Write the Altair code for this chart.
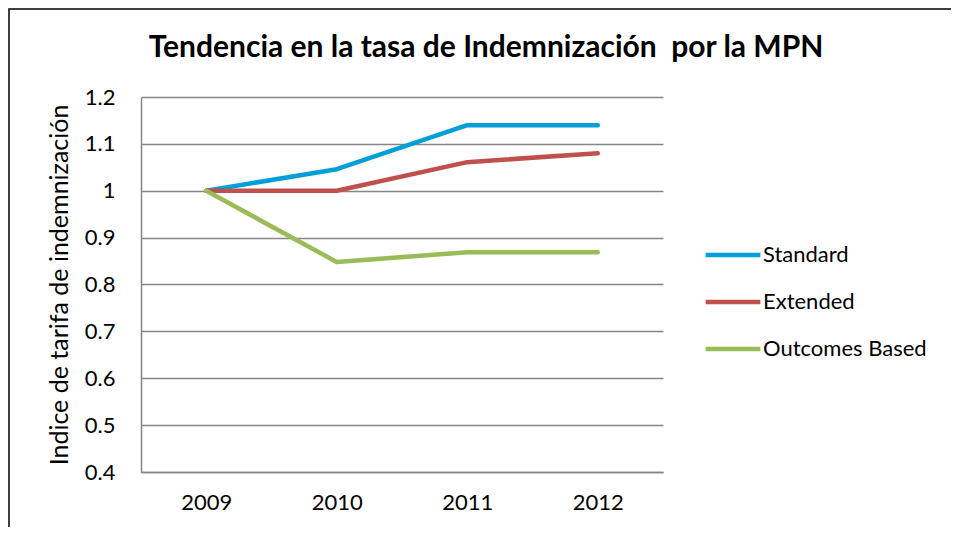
import altair as alt
import pandas as pd

years = ["2009", "2010", "2011", "2012"]
standard = [1.0, 1.046, 1.14, 1.14]
extended = [1.0, 1.0, 1.061, 1.08]
outcomes = [1.0, 0.848, 0.869, 0.869]
series_names = ["Standard", "Extended", "Outcomes Based"]
colors = ["#009FDA", "#C0504D", "#9BBB59"]

rows = []
for name, vals in zip(series_names, [standard, extended, outcomes]):
    for y, v in zip(years, vals):
        rows.append({"Año": y, "Valor": v, "Serie": name})
df = pd.DataFrame(rows)

FONT = "Lato"

lines = alt.Chart(df).mark_line(strokeWidth=4.5, strokeCap="round", strokeJoin="round").encode(
    x=alt.X("Año:N", sort=years, title=None,
            scale=alt.Scale(type="point", padding=0.5),
            axis=alt.Axis(labelAngle=0, labelFontSize=22, labelPadding=20, ticks=False,
                          domain=True, domainColor="#868686", domainWidth=1.5, grid=False,
                          labelFont=FONT, labelColor="#000000")),
    y=alt.Y("Valor:Q", title="Indice de tarifa de indemnización",
            scale=alt.Scale(domain=[0.4, 1.2], nice=False, zero=False),
            axis=alt.Axis(values=[0.4, 0.5, 0.6, 0.7, 0.8, 0.9, 1.0, 1.1, 1.2],
                          labelExpr="datum.value == 1 ? '1' : format(datum.value, '.1f')",
                          labelFontSize=22, labelPadding=26, ticks=False,
                          domain=True, domainColor="#868686", domainWidth=1.5,
                          grid=True, gridColor="#868686", gridWidth=1.5,
                          titleFontSize=25, titleFontWeight="normal", titlePadding=12,
                          labelFont=FONT, titleFont=FONT, labelColor="#000000", titleColor="#000000")),
    color=alt.Color("Serie:N", sort=series_names,
                    scale=alt.Scale(domain=series_names, range=colors),
                    legend=alt.Legend(title=None, orient="none", legendX=562, legendY=128,
                                      symbolType="stroke", symbolSize=3000, symbolStrokeWidth=4.5,
                                      labelFontSize=22, labelFont=FONT, labelColor="#000000",
                                      labelLimit=400, rowPadding=6, labelOffset=0)),
)

border = alt.Chart(alt.Data(values=[{}])).mark_rect(
    fill=None, stroke="#000000", strokeWidth=1.5, clip=False
).encode(
    x=alt.value(-132), x2=alt.value(900), y=alt.value(-88), y2=alt.value(500)
)

chart = alt.layer(lines, border).properties(
    width=522, height=375,
    padding={"left": 133, "top": 89, "right": 288, "bottom": 55},
    autosize=alt.AutoSizeParams(type="none"),
    title=alt.TitleParams("Tendencia en la tasa de Indemnización\u00a0 por la MPN",
                          fontSize=30, fontWeight="bold", font=FONT, color="#000000",
                          anchor="middle", frame="group", dx=84, offset=-55),
).configure_view(stroke=None)

chart.save("out.html", embed_options={"renderer": "svg", "actions": False})
